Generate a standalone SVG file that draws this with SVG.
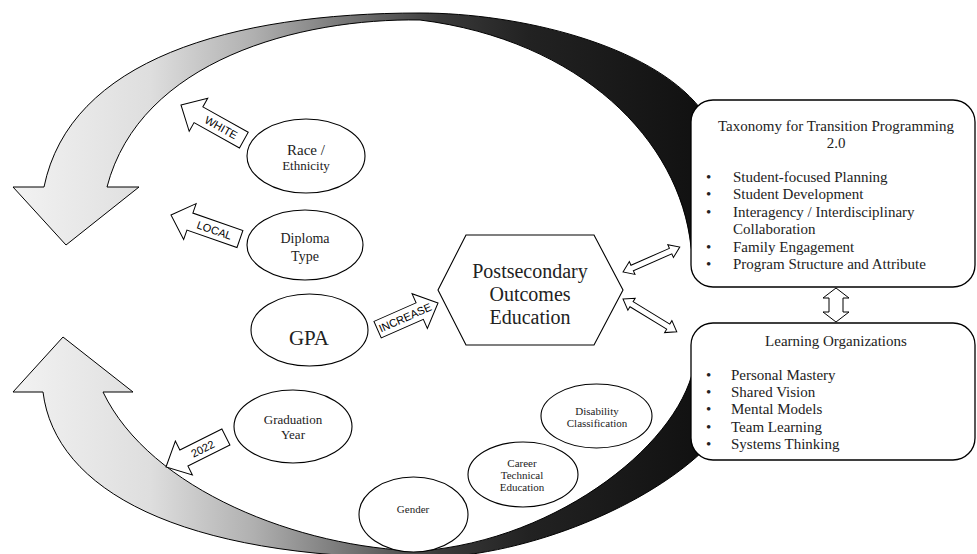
<svg xmlns="http://www.w3.org/2000/svg" width="977" height="554" viewBox="0 0 977 554">
<defs>
<linearGradient id="grad" gradientUnits="userSpaceOnUse" x1="13" y1="0" x2="700" y2="0">
<stop offset="0" stop-color="#f2f2f2"/>
<stop offset="0.2" stop-color="#dedede"/>
<stop offset="0.35" stop-color="#b0b0b0"/>
<stop offset="0.5" stop-color="#707070"/>
<stop offset="0.62" stop-color="#3a3a3a"/>
<stop offset="0.75" stop-color="#222222"/>
<stop offset="1" stop-color="#111111"/>
</linearGradient>
</defs>
<style>
.cyc{fill:url(#grad);stroke:#000;stroke-width:1}
.node{fill:#fff;stroke:#000;stroke-width:1.1}
.box{fill:#fff;stroke:#000;stroke-width:1.3}
.blk{fill:#fff;stroke:#000;stroke-width:1}
.t{fill:#222;text-anchor:middle}
.tl{fill:#222;font-size:15px}
.lbl{font-size:11px;fill:#000;text-anchor:middle;dominant-baseline:central}
</style>
<rect width="977" height="554" fill="#fff"/>

<g id="cycle-arrows">
<path id="top-arrow" class="cyc" d="M44,187 C70,60 230,13 420,13 C520,13 650,45 700,108 L712,130 L712,262 L694,262 L691,247 C680,140 580,40 420,20 C300,18 140,60 107,187 L139,187 L66,245 L13,187 Z"/>
<path id="bottom-arrow" class="cyc" d="M43,392 C55,490 180,558 420,558 C520,558 640,510 702,452 L712,440 L712,360 L695,360 C685,440 560,540 420,551 C300,548 150,490 103,392 L133,392 L63,337 L13,392 Z"/>
</g>

<g id="connectors" font-family="'Liberation Sans', Arial, sans-serif">
<g id="arrow-white" transform="translate(181,105) rotate(29.2)">
<path class="blk" d="M0,0 L20,-19 L20,-9 L72,-9 L72,9 L20,9 L20,19 Z"/>
<text class="lbl" x="46" y="0">WHITE</text>
</g>
<g id="arrow-local" transform="translate(171,215) rotate(19.2)">
<path class="blk" d="M0,0 L20,-19 L20,-9 L73,-9 L73,9 L20,9 L20,19 Z"/>
<text class="lbl" x="46" y="0">LOCAL</text>
</g>
<g id="arrow-2022" transform="translate(166,467) rotate(-26.6)">
<path class="blk" d="M0,0 L20,-19 L20,-9 L67,-9 L67,9 L20,9 L20,19 Z"/>
<text class="lbl" x="41" y="0">2022</text>
</g>
<g id="arrow-increase" transform="translate(438,303) rotate(-23.8)">
<path class="blk" d="M0,0 L-20,-19 L-20,-9 L-66,-9 L-66,9 L-20,9 L-20,19 Z"/>
<text class="lbl" x="-36" y="0">INCREASE</text>
</g>
<path id="dbl-upper" class="blk" transform="translate(623,272) rotate(-23.7)" d="M0,0 L10,-7 L10,-3 L52,-3 L52,-7 L62,0 L52,7 L52,3 L10,3 L10,7 Z"/>
<path id="dbl-lower" class="blk" transform="translate(623,299) rotate(31.4)" d="M0,0 L10,-7 L10,-3 L53,-3 L53,-7 L63,0 L53,7 L53,3 L10,3 L10,7 Z"/>
<path id="dbl-vertical" class="blk" d="M836,288 L849,298 L843,298 L843,312 L849,312 L836,322 L823,312 L829,312 L829,298 L823,298 Z"/>
</g>

<g id="nodes" font-family="'Liberation Serif', 'Times New Roman', serif">
<g id="taxonomy">
<rect class="box" x="691" y="100" width="284" height="187" rx="22" ry="22"/>
<text class="t" font-size="15" x="836" y="131">Taxonomy for Transition Programming</text>
<text class="t" font-size="15" x="836" y="148">2.0</text>
<g class="tl">
<text x="706" y="182">•</text><text x="733" y="182">Student-focused Planning</text>
<text x="706" y="199">•</text><text x="733" y="199">Student Development</text>
<text x="706" y="217">•</text><text x="733" y="217">Interagency / Interdisciplinary</text>
<text x="733" y="234">Collaboration</text>
<text x="706" y="251.5">•</text><text x="733" y="251.5">Family Engagement</text>
<text x="706" y="269">•</text><text x="733" y="269">Program Structure and Attribute</text>
</g>
</g>

<g id="learning-organizations">
<rect class="box" x="691" y="323" width="284" height="137" rx="22" ry="22"/>
<text class="t" font-size="15" x="836" y="345.5">Learning Organizations</text>
<g class="tl">
<text x="706" y="380">•</text><text x="731" y="380">Personal Mastery</text>
<text x="706" y="397">•</text><text x="731" y="397">Shared Vision</text>
<text x="706" y="414">•</text><text x="731" y="414">Mental Models</text>
<text x="706" y="431.5">•</text><text x="731" y="431.5">Team Learning</text>
<text x="706" y="449">•</text><text x="731" y="449">Systems Thinking</text>
</g>
</g>

<g id="postsecondary">
<path class="node" d="M438,290 L466,235 L594,235 L623,290 L594,345 L466,345 Z"/>
<text class="t" font-size="20" x="530" y="278">Postsecondary</text>
<text class="t" font-size="20" x="530" y="301">Outcomes</text>
<text class="t" font-size="20" x="530" y="324">Education</text>
</g>

<g id="race">
<ellipse class="node" cx="306" cy="156" rx="59" ry="37"/>
<text class="t" font-size="15" x="306" y="155">Race /</text>
<text class="t" font-size="13" x="306" y="169.5">Ethnicity</text>
</g>

<g id="diploma">
<ellipse class="node" cx="305" cy="245" rx="58" ry="35"/>
<text class="t" font-size="14" x="305" y="243">Diploma</text>
<text class="t" font-size="14" x="305" y="261">Type</text>
</g>

<g id="gpa">
<ellipse class="node" cx="309.5" cy="330" rx="58.5" ry="36"/>
<text class="t" font-size="21" x="309" y="345">GPA</text>
</g>

<g id="graduation">
<ellipse class="node" cx="293" cy="426.5" rx="59" ry="36.5"/>
<text class="t" font-size="13" x="293" y="424">Graduation</text>
<text class="t" font-size="13" x="293" y="439">Year</text>
</g>

<g id="disability">
<ellipse class="node" cx="596.5" cy="416" rx="55.5" ry="32"/>
<text class="t" font-size="11" x="597" y="414.5">Disability</text>
<text class="t" font-size="11" x="597" y="426.5">Classification</text>
</g>

<g id="career">
<ellipse class="node" cx="523" cy="474.5" rx="55" ry="32.5"/>
<text class="t" font-size="11" x="522" y="466.5">Career</text>
<text class="t" font-size="11" x="522" y="478.5">Technical</text>
<text class="t" font-size="11" x="522" y="490.5">Education</text>
</g>

<g id="gender">
<ellipse class="node" cx="413.5" cy="514.5" rx="54.5" ry="37.5"/>
<text class="t" font-size="11" x="413" y="513">Gender</text>
</g>
</g>
</svg>
